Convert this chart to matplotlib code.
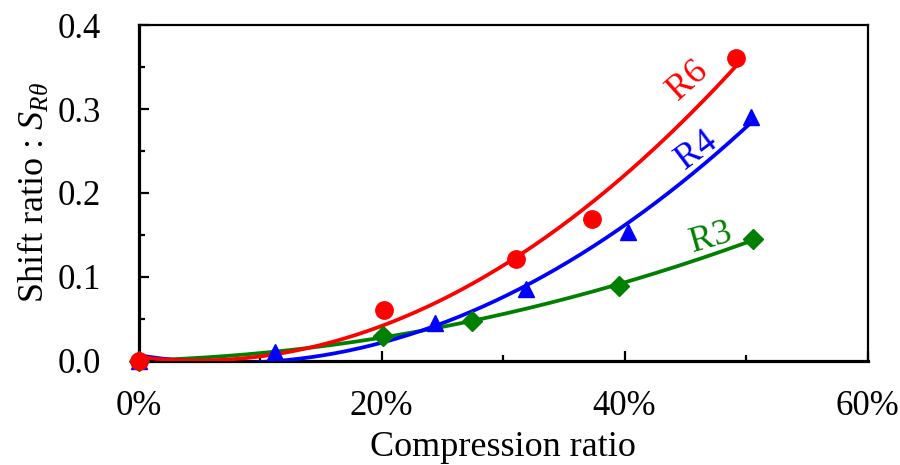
import numpy as np
import matplotlib
matplotlib.use("Agg")
import matplotlib.pyplot as plt
from matplotlib.ticker import MultipleLocator, FuncFormatter

plt.rcParams['font.family'] = ['Liberation Serif', 'DejaVu Serif']
plt.rcParams['mathtext.fontset'] = 'custom'
plt.rcParams['mathtext.it'] = 'Liberation Serif:italic'
plt.rcParams['mathtext.rm'] = 'Liberation Serif'

# measured points (compression ratio, shift ratio)
r6_x = [0.0, 0.202, 0.311, 0.373, 0.492]
r6_y = [0.0, 0.060, 0.121, 0.169, 0.361]
r4_x = [0.0, 0.112, 0.244, 0.319, 0.403, 0.504]
r4_y = [0.0, 0.011, 0.045, 0.085, 0.154, 0.291]
r3_x = [0.0, 0.201, 0.274, 0.395, 0.506]
r3_y = [0.0, 0.029, 0.048, 0.089, 0.145]

# drawn bottom to top
series = [
    ("R3", r3_x, r3_y, "green", "D", 10),
    ("R4", r4_x, r4_y, "blue", "^", 12),
    ("R6", r6_x, r6_y, "red", "o", 12.5),
]

fig = plt.figure(figsize=(9, 4.65), dpi=100)
ax = fig.add_axes([0.154, 0.224, 0.81, 0.722])

for i, (name, xs, ys, col, mk, ms) in enumerate(series):
    # 2nd order trend line like the spreadsheet one
    p = np.polyfit(xs, ys, 2)
    xx = np.linspace(0, max(xs), 200)
    ax.plot(xx, np.polyval(p, xx), color=col, lw=2.7, zorder=2 + i)
for i, (name, xs, ys, col, mk, ms) in enumerate(series):
    ax.plot(xs, ys, ls="none", marker=mk, ms=ms, color=col, zorder=6 + i, clip_on=False)

ax.text(0.452, 0.334, "R6", color="red", fontsize=26, rotation=42, ha="center", va="center")
ax.text(0.459, 0.251, "R4", color="blue", fontsize=26, rotation=37, ha="center", va="center")
ax.text(0.471, 0.146, "R3", color="green", fontsize=26, rotation=16, ha="center", va="center")

ax.set_xlim(0, 0.6)
ax.set_ylim(0, 0.4)
ax.xaxis.set_major_locator(MultipleLocator(0.2))
ax.xaxis.set_minor_locator(MultipleLocator(0.1))
ax.yaxis.set_major_locator(MultipleLocator(0.1))
ax.yaxis.set_minor_locator(MultipleLocator(0.05))
ax.xaxis.set_major_formatter(FuncFormatter(lambda v, pos: f"{v*100:.0f}%"))
ax.yaxis.set_major_formatter(FuncFormatter(lambda v, pos: f"{v:.1f}"))

ax.tick_params(which="both", direction="in", width=1.6, labelsize=25, top=False, right=False)
ax.tick_params(which="major", length=7)
ax.tick_params(which="minor", length=4.5)
ax.tick_params(axis="x", which="major", pad=21)
ax.tick_params(axis="y", which="major", pad=27)

for s in ["left", "bottom"]:
    ax.spines[s].set_linewidth(2.3)
for s in ["top", "right"]:
    ax.spines[s].set_linewidth(1.6)

ax.set_xlabel("Compression ratio", fontsize=26, labelpad=6)
ax.set_ylabel(r"Shift ratio : $S_{R\theta}$", fontsize=26, labelpad=4)

fig.savefig("out.png", dpi=100)
